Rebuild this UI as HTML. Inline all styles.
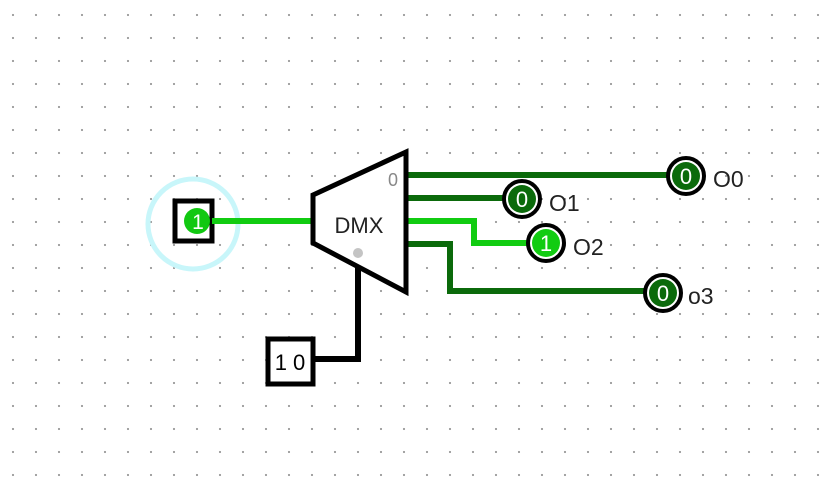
<!DOCTYPE html>
<html><head><style>
body{margin:0;width:833px;height:482px;background:#fff;overflow:hidden;
background-image:radial-gradient(circle,#9a9a9a 0.9px,transparent 1.3px);
background-size:23px 23px;background-position:1.5px 3.5px;}
svg{position:absolute;left:0;top:0}
</style></head><body>
<svg width="833" height="482" font-family="Liberation Sans, sans-serif">
<circle cx="193" cy="224" r="45" fill="none" stroke="#c8f6fa" stroke-width="5"/>
<rect x="175" y="201" width="37" height="40" fill="#fff" stroke="#000" stroke-width="5"/>
<circle cx="197" cy="221" r="13" fill="#11c811"/>
<text x="198" y="229" font-size="21" fill="#fff" text-anchor="middle">1</text>
<line x1="212" y1="221" x2="313" y2="221" stroke="#11cc11" stroke-width="6"/>
<g stroke="#0b6a0b" stroke-width="6" fill="none">
<polyline points="406,175 670,175"/>
<polyline points="406,198 505,198"/>
<polyline points="406,244 450,244 450,291 646,291"/>
</g>
<polyline points="406,221 474,221 474,243 528,243" stroke="#11cc11" stroke-width="6" fill="none"/>
<polyline points="358,260 358,359 313,359" stroke="#000" stroke-width="6" fill="none"/>
<polygon points="313,195 406,152 406,292 313,243" fill="#fff" stroke="#000" stroke-width="5"/>
<text x="359" y="233" font-size="22" fill="#222" text-anchor="middle">DMX</text>
<text x="388" y="186" font-size="18" fill="#888">0</text>
<circle cx="358" cy="253" r="5" fill="#c4c4c4"/>
<rect x="268" y="339" width="45" height="45" fill="#fff" stroke="#000" stroke-width="5"/>
<text x="290" y="370" font-size="22" text-anchor="middle">1 0</text>
<g stroke="#000" stroke-width="4">
<circle cx="686" cy="176" r="18" fill="#fff"/>
<circle cx="522" cy="199" r="18" fill="#fff"/>
<circle cx="546" cy="243" r="18" fill="#fff"/>
<circle cx="663" cy="293" r="18" fill="#fff"/>
</g>
<circle cx="686" cy="176" r="14" fill="#0b6a0b"/>
<circle cx="522" cy="199" r="14" fill="#0b6a0b"/>
<circle cx="546" cy="243" r="14" fill="#11cc11"/>
<circle cx="663" cy="293" r="14" fill="#0b6a0b"/>
<g fill="#fff" font-size="22" text-anchor="middle">
<text x="686" y="184">0</text><text x="522" y="207">0</text>
<text x="546" y="251">1</text><text x="663" y="301">0</text>
</g>
<g fill="#222" font-size="23">
<text x="713" y="187">O0</text><text x="549" y="211">O1</text>
<text x="573" y="255">O2</text><text x="688" y="304">o3</text>
</g>
</svg>
</body></html>
